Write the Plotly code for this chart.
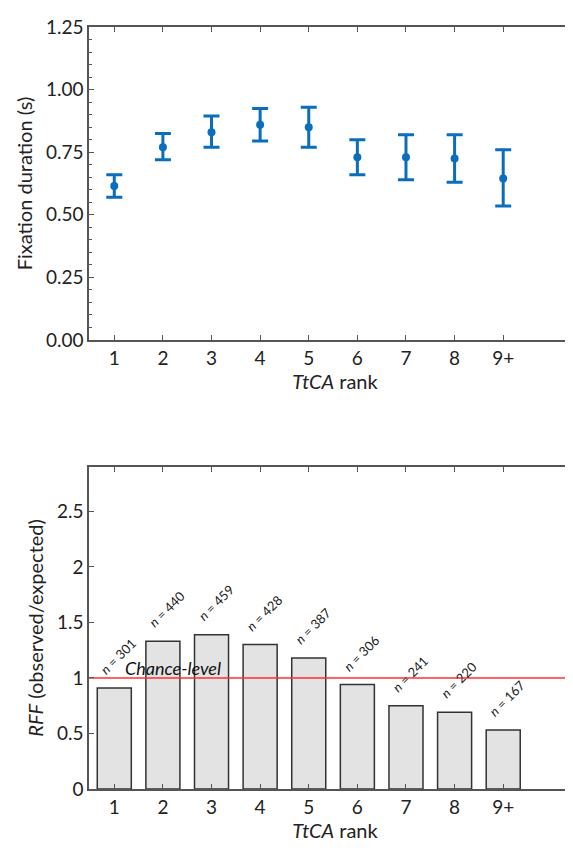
import plotly.graph_objects as go

ranks = ['1', '2', '3', '4', '5', '6', '7', '8', '9+']
fix_mean = [0.615, 0.77, 0.83, 0.86, 0.85, 0.73, 0.73, 0.725, 0.645]
fix_low = [0.57, 0.72, 0.77, 0.795, 0.77, 0.66, 0.64, 0.63, 0.535]
fix_high = [0.66, 0.825, 0.895, 0.925, 0.93, 0.80, 0.82, 0.82, 0.76]
rff = [0.91, 1.33, 1.39, 1.30, 1.18, 0.94, 0.75, 0.69, 0.53]
counts = [301, 440, 459, 428, 387, 306, 241, 220, 167]

xs = list(range(1, len(ranks) + 1))
blue = '#0a6ebd'
font = dict(family='Lato, DejaVu Sans', size=19, color='#222')
tfont = dict(family='Lato, DejaVu Sans', size=20, color='#222')

fig = go.Figure()
fig.add_trace(go.Scatter(
    x=xs, y=fix_mean, mode='markers', marker=dict(color=blue, size=8),
    error_y=dict(type='data', symmetric=False,
                 array=[h - m for h, m in zip(fix_high, fix_mean)],
                 arrayminus=[m - l for m, l in zip(fix_mean, fix_low)],
                 color=blue, thickness=3, width=8),
    xaxis='x', yaxis='y', showlegend=False))

fig.add_trace(go.Bar(
    x=xs, y=rff, width=0.7, marker=dict(color='#e3e3e3', line=dict(color='#333', width=1.5)),
    xaxis='x2', yaxis='y2', showlegend=False))

fig.add_trace(go.Scatter(
    x=[0.48, 10.6], y=[1, 1], mode='lines', line=dict(color='#ff3030', width=1.5),
    xaxis='x2', yaxis='y2', showlegend=False))

for x, y, n in zip(xs, rff, counts):
    fig.add_annotation(x=x, y=y, xref='x2', yref='y2', text=f'<i>n</i> = {n}',
                       showarrow=False, textangle=-45, xanchor='center', yanchor='bottom',
                       xshift=4, yshift=8, font=dict(family='Lato, DejaVu Sans', size=13, color='#222'))
fig.add_annotation(x=2.2, y=1, xref='x2', yref='y2', text='<i>Chance-level</i>',
                   showarrow=False, yanchor='bottom', yshift=-3,
                   font=dict(family='Lato, DejaVu Sans', size=18, color='#111'))

axis_common = dict(showline=True, linecolor='#555', linewidth=1.5, mirror='ticks', ticks='inside',
                   ticklen=5, tickcolor='#555', showgrid=False, zeroline=False, tickfont=font,
                   automargin=False)

fig.update_layout(
    width=573, height=866, margin=dict(l=81, r=0, t=0, b=0),
    plot_bgcolor='white', paper_bgcolor='white', font=font,
    xaxis=dict(axis_common, domain=[0, 1], range=[0.48, 10.6], tickvals=xs, ticktext=ranks,
               anchor='y', title=dict(text='<i>TtCA</i> rank', font=tfont, standoff=4)),
    yaxis=dict(axis_common, domain=[0.6166, 0.978], range=[0, 1.2501], tickvals=[0, 0.25, 0.5, 0.75, 1.0, 1.25],
               tickformat='.2f', title=dict(text='Fixation duration (s)', font=tfont, standoff=8),
               minor=dict(ticks='inside', ticklen=3, tickcolor='#555', dtick=0.05)),
    xaxis2=dict(axis_common, domain=[0, 1], range=[0.48, 10.6], tickvals=xs, ticktext=ranks,
                anchor='y2', title=dict(text='<i>TtCA</i> rank', font=tfont, standoff=4)),
    yaxis2=dict(axis_common, domain=[0.0982, 0.4700], range=[0, 2.9], tickvals=[0, 0.5, 1, 1.5, 2, 2.5],
                ticktext=['0', '0.5', '1', '1.5', '2', '2.5'], anchor='x2',
                title=dict(text='<i>RFF</i> (observed/expected)', font=tfont, standoff=8)),
)

fig.write_html('out.html')
